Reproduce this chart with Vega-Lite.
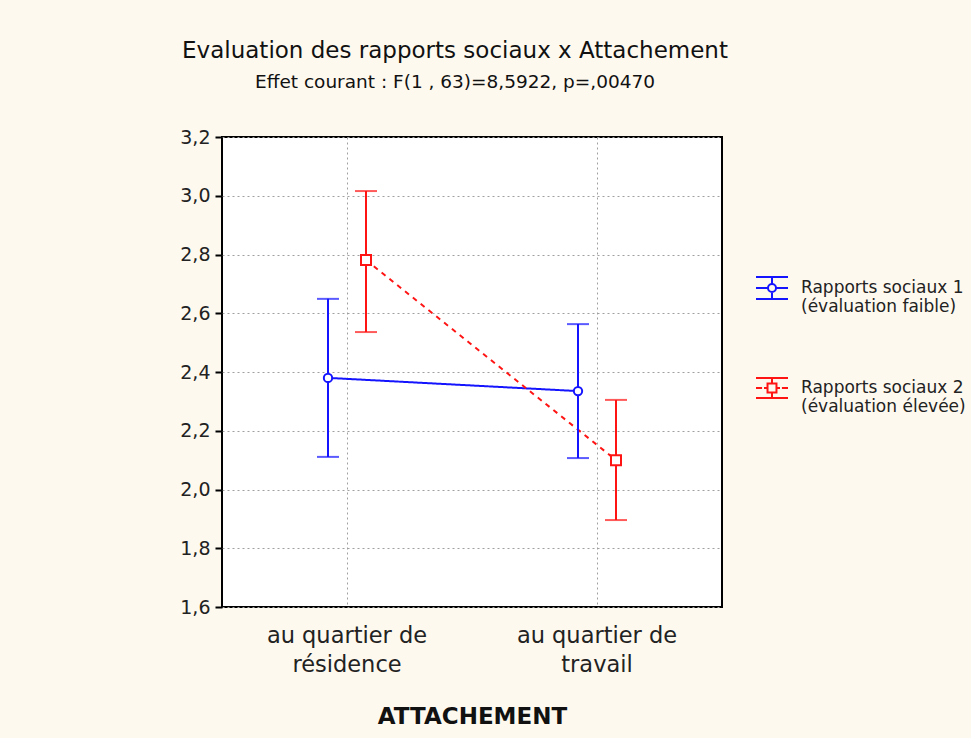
{
  "$schema": "https://vega.github.io/schema/vega-lite/v6.json",
  "width": 500,
  "height": 470,
  "autosize": {"type": "none"},
  "padding": {"left": 222, "top": 137, "right": 249, "bottom": 131},
  "background": "#fdf9ef",
  "config": {
    "font": "DejaVu Sans",
    "view": {"fill": "#ffffff", "stroke": "#000000", "strokeWidth": 2},
    "axis": {"gridColor": "#a0a0a0", "gridDash": [2, 3], "gridWidth": 1, "domain": false, "tickColor": "#000000", "tickWidth": 2, "labelColor": "#222222", "titleColor": "#111111"}
  },
  "title": {
    "text": "Evaluation des rapports sociaux  x Attachement",
    "subtitle": "Effet courant : F(1 , 63)=8,5922, p=,00470",
    "anchor": "middle",
    "dx": -17,
    "fontSize": 23,
    "fontWeight": "normal",
    "color": "#111111",
    "subtitleFontSize": 18.5,
    "subtitleColor": "#111111",
    "subtitlePadding": 10,
    "offset": 37
  },
  "data": {
    "values": [
      {"attachement": "au quartier de résidence", "serie": "Rapports sociaux 1", "moyenne": 2.38, "bas": 2.111, "haut": 2.649},
      {"attachement": "au quartier de travail", "serie": "Rapports sociaux 1", "moyenne": 2.335, "bas": 2.107, "haut": 2.563},
      {"attachement": "au quartier de résidence", "serie": "Rapports sociaux 2", "moyenne": 2.781, "bas": 2.536, "haut": 3.016},
      {"attachement": "au quartier de travail", "serie": "Rapports sociaux 2", "moyenne": 2.1, "bas": 1.896, "haut": 2.305}
    ]
  },
  "encoding": {
    "x": {
      "field": "attachement",
      "type": "nominal",
      "sort": ["au quartier de résidence", "au quartier de travail"],
      "scale": {"type": "band", "paddingInner": 0, "paddingOuter": 0},
      "axis": {
        "title": "ATTACHEMENT",
        "titleFontSize": 23,
        "titleFontWeight": "bold",
        "titlePadding": 30,
        "labelAngle": 0,
        "labelFontSize": 22.5,
        "labelLineHeight": 29,
        "labelPadding": 17,
        "labelExpr": "datum.value == 'au quartier de résidence' ? ['au quartier de', 'résidence'] : ['au quartier de', 'travail']",
        "tickSize": 0,
        "grid": true
      }
    },
    "xOffset": {
      "field": "serie",
      "type": "nominal",
      "sort": ["Rapports sociaux 1", "Rapports sociaux 2"],
      "scale": {"type": "point", "padding": 0, "range": [106, 144]}
    },
    "color": {
      "field": "serie",
      "type": "nominal",
      "sort": ["Rapports sociaux 1", "Rapports sociaux 2"],
      "scale": {"range": ["#1414ff", "#ff1414"]},
      "legend": {
        "title": null,
        "orient": "none",
        "legendX": 533,
        "legendY": 134,
        "labelFontSize": 17,
        "labelColor": "#222222",
        "labelLineHeight": 23,
        "labelOffset": 12,
        "labelLimit": 400,
        "rowPadding": 56,
        "symbolSize": 1024,
        "symbolStrokeWidth": 2,
        "symbolFillColor": "transparent",
        "labelExpr": "datum.value == 'Rapports sociaux 1' ? ['Rapports sociaux 1', ' (évaluation faible)'] : ['Rapports sociaux 2', '(évaluation élevée)']",
        "encode": {
          "symbols": {
            "update": {
              "shape": {"signal": "datum.value == 'Rapports sociaux 1' ? 'M-1,-0.69H1M-1,0.69H1M0,-0.69V-0.25M0,0.25V0.69M-1,0H-0.25M0.25,0H1M-0.25,0A0.25,0.25 0 1,0 0.25,0A0.25,0.25 0 1,0 -0.25,0' : 'M-1,-0.62H1M-1,0.62H1M0,-0.62V-0.28M0,0.28V0.62M-1,0H-0.62M-0.5,0H-0.28M0.28,0H0.5M0.62,0H1M-0.28,-0.28H0.28V0.28H-0.28Z'"},
              "fill": {"value": "transparent"},
              "fillOpacity": {"value": 0},
              "strokeDash": {"value": []},
              "strokeWidth": {"value": 2},
              "size": {"value": 1024},
              "opacity": {"value": 1}
            }
          }
        }
      }
    }
  },
  "layer": [
    {
      "mark": {"type": "line", "strokeWidth": 2},
      "encoding": {
        "y": {
          "field": "moyenne",
          "type": "quantitative",
          "scale": {"domain": [1.6, 3.2], "zero": false, "nice": false},
          "axis": {
            "title": null,
            "values": [1.6, 1.8, 2.0, 2.2, 2.4, 2.6, 2.8, 3.0, 3.2],
            "labelExpr": "replace(format(datum.value, '.1f'), '.', ',')",
            "labelFontSize": 19,
            "labelPadding": 5,
            "tickSize": 7,
            "grid": true
          }
        },
        "strokeDash": {
          "field": "serie",
          "type": "nominal",
          "sort": ["Rapports sociaux 1", "Rapports sociaux 2"],
          "scale": {"range": [[1, 0], [5, 5]]},
          "legend": null
        }
      }
    },
    {
      "mark": {"type": "rule", "strokeWidth": 2},
      "encoding": {
        "y": {"field": "bas", "type": "quantitative"},
        "y2": {"field": "haut"}
      }
    },
    {
      "mark": {"type": "tick", "size": 22, "thickness": 2, "orient": "horizontal"},
      "encoding": {"y": {"field": "bas", "type": "quantitative"}}
    },
    {
      "mark": {"type": "tick", "size": 22, "thickness": 2, "orient": "horizontal"},
      "encoding": {"y": {"field": "haut", "type": "quantitative"}}
    },
    {
      "mark": {"type": "point", "filled": false, "fill": "#ffffff", "fillOpacity": 1, "strokeWidth": 2, "opacity": 1},
      "encoding": {
        "y": {"field": "moyenne", "type": "quantitative"},
        "shape": {
          "field": "serie",
          "type": "nominal",
          "sort": ["Rapports sociaux 1", "Rapports sociaux 2"],
          "scale": {"range": ["circle", "square"]},
          "legend": null
        },
        "size": {
          "field": "serie",
          "type": "nominal",
          "sort": ["Rapports sociaux 1", "Rapports sociaux 2"],
          "scale": {"range": [70, 100]},
          "legend": null
        }
      }
    }
  ]
}
